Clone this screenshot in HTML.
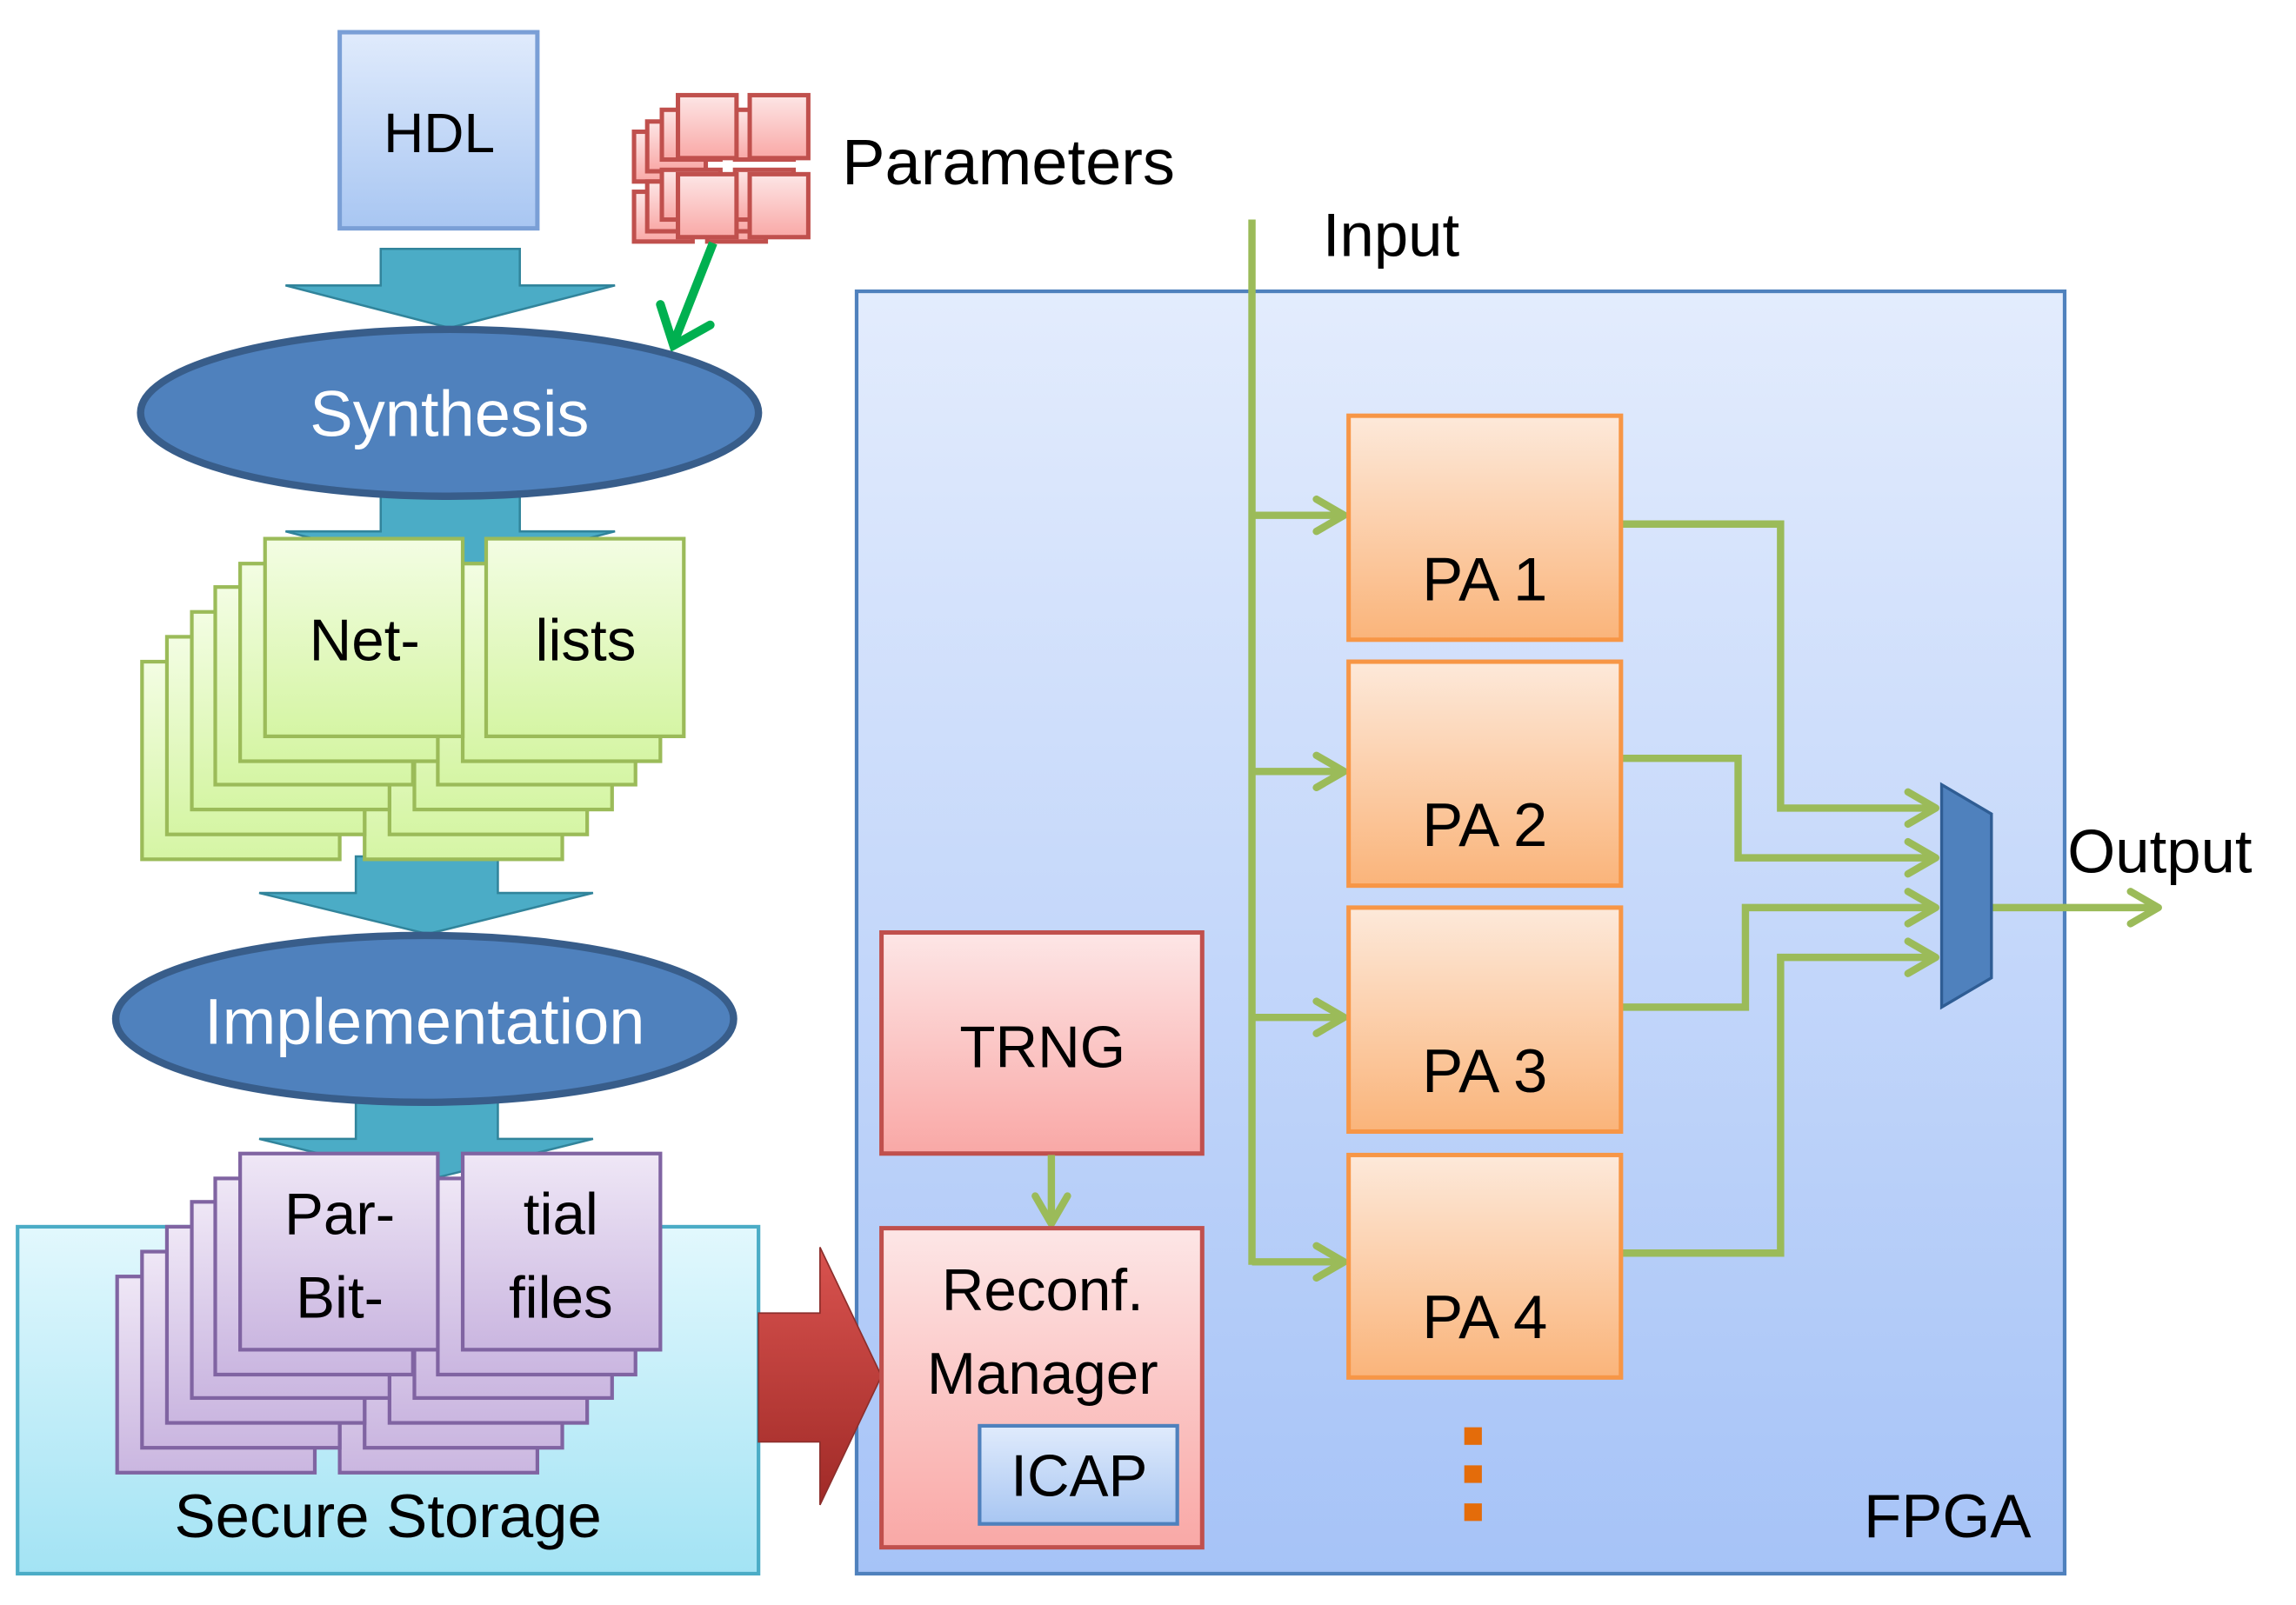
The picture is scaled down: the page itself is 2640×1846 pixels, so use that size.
<!DOCTYPE html>
<html><head><meta charset="utf-8"><style>html,body{margin:0;padding:0;background:#fff}svg{display:block}</style></head>
<body>
<svg width="2640" height="1846" viewBox="0 0 1568 1096.4" preserveAspectRatio="none" xmlns="http://www.w3.org/2000/svg" font-family="'Liberation Sans', 'DejaVu Sans', sans-serif">
<defs>
<linearGradient id="gb" x1="0" y1="0" x2="0" y2="1"><stop offset="0" stop-color="#e0ebfc"/><stop offset="1" stop-color="#a8c6f2"/></linearGradient>
<linearGradient id="gf" x1="0" y1="0" x2="0" y2="1"><stop offset="0" stop-color="#e3ecfd"/><stop offset="1" stop-color="#a6c3f7"/></linearGradient>
<linearGradient id="gr" x1="0" y1="0" x2="0" y2="1"><stop offset="0" stop-color="#fde6e6"/><stop offset="1" stop-color="#f9a8a6"/></linearGradient>
<linearGradient id="go" x1="0" y1="0" x2="0" y2="1"><stop offset="0" stop-color="#fde9da"/><stop offset="1" stop-color="#fab47a"/></linearGradient>
<linearGradient id="gg" x1="0" y1="0" x2="0" y2="1"><stop offset="0" stop-color="#f3fde3"/><stop offset="1" stop-color="#d5f5a4"/></linearGradient>
<linearGradient id="gp" x1="0" y1="0" x2="0" y2="1"><stop offset="0" stop-color="#efe7f6"/><stop offset="1" stop-color="#cab6e0"/></linearGradient>
<linearGradient id="gs" x1="0" y1="0" x2="0" y2="1"><stop offset="0" stop-color="#e2f8fd"/><stop offset="1" stop-color="#a3e3f4"/></linearGradient>
<linearGradient id="gdr" x1="0" y1="0" x2="0" y2="1"><stop offset="0" stop-color="#d9534f"/><stop offset="1" stop-color="#a02a27"/></linearGradient>
<marker id="ah" markerWidth="30" markerHeight="30" refX="22" refY="13" orient="auto" markerUnits="userSpaceOnUse" viewBox="0 0 30 26"><path d="M3,2 L22,13 L3,24" fill="none" stroke="#9bbb59" stroke-width="5" stroke-linecap="round" stroke-linejoin="round"/></marker>
</defs>

<rect x="232" y="22" width="135" height="134" fill="url(#gb)" stroke="#7a9fd6" stroke-width="3"/>
<text x="300" y="104" font-size="38" text-anchor="middle">HDL</text>

<g stroke="#c0504d" stroke-width="3" fill="url(#gr)">
<rect x="433" y="90" width="40" height="34"/><rect x="433" y="131" width="40" height="34"/><rect x="483" y="131" width="40" height="34"/>
<rect x="442" y="83" width="40" height="34"/><rect x="442" y="124" width="40" height="34"/><rect x="492" y="124" width="40" height="34"/>
<rect x="452" y="75" width="40" height="34"/><rect x="452" y="116" width="40" height="34"/><rect x="502" y="116" width="40" height="34"/><rect x="502" y="75" width="40" height="34"/>
<rect x="463" y="65" width="40" height="43"/><rect x="512" y="65" width="40" height="43"/>
<rect x="463" y="119" width="40" height="43"/><rect x="512" y="119" width="40" height="43"/>
</g>
<text x="575" y="126" font-size="44">Parameters</text>
<path d="M487,166 L461,232" stroke="#00b050" stroke-width="6" fill="none"/>
<path d="M451,208 L460,236 L485,222" stroke="#00b050" stroke-width="6" fill="none" stroke-linecap="round"/>

<g fill="#4bacc6" stroke="#31849b" stroke-width="1.5">
<polygon points="260,170 355,170 355,195 420,195 307,224 195,195 260,195"/>
<polygon points="260,335 355,335 355,363 420,363 307,392 195,363 260,363"/>
<polygon points="243,585 340,585 340,610 405,610 292,638 177,610 243,610"/>
<polygon points="243,750 340,750 340,778 405,778 292,806 177,778 243,778"/>
</g>

<ellipse cx="307" cy="282" rx="211" ry="57" fill="#4f81bd" stroke="#385d8a" stroke-width="5"/>
<text x="307" y="298" font-size="44" fill="#fff" text-anchor="middle">Synthesis</text>

<g fill="url(#gg)" stroke="#9bbb59" stroke-width="2.5">
<rect x="97" y="452" width="135" height="135"/><rect x="249" y="452" width="135" height="135"/>
<rect x="114" y="435" width="135" height="135"/><rect x="266" y="435" width="135" height="135"/>
<rect x="131" y="418" width="135" height="135"/><rect x="283" y="418" width="135" height="135"/>
<rect x="147" y="401" width="135" height="135"/><rect x="299" y="401" width="135" height="135"/>
<rect x="164" y="385" width="135" height="135"/><rect x="316" y="385" width="135" height="135"/>
<rect x="181" y="368" width="135" height="135"/><rect x="332" y="368" width="135" height="135"/>
</g>
<text x="249" y="451" font-size="40" text-anchor="middle">Net-</text>
<text x="400" y="451" font-size="40" text-anchor="middle">lists</text>

<ellipse cx="290" cy="696" rx="211" ry="57" fill="#4f81bd" stroke="#385d8a" stroke-width="5"/>
<text x="290" y="713" font-size="44" fill="#fff" text-anchor="middle">Implementation</text>

<rect x="12" y="838" width="506" height="237" fill="url(#gs)" stroke="#4bacc6" stroke-width="2.5"/>
<text x="265" y="1050" font-size="42" text-anchor="middle">Secure Storage</text>
<g fill="url(#gp)" stroke="#8064a2" stroke-width="2.5">
<rect x="80" y="872" width="135" height="134"/><rect x="232" y="872" width="135" height="134"/>
<rect x="97" y="855" width="135" height="134"/><rect x="249" y="855" width="135" height="134"/>
<rect x="114" y="838" width="135" height="134"/><rect x="266" y="838" width="135" height="134"/>
<rect x="131" y="821" width="135" height="134"/><rect x="283" y="821" width="135" height="134"/>
<rect x="147" y="805" width="135" height="134"/><rect x="299" y="805" width="135" height="134"/>
<rect x="164" y="788" width="135" height="134"/><rect x="316" y="788" width="135" height="134"/>
</g>
<text x="232" y="843" font-size="40" text-anchor="middle">Par-</text>
<text x="232" y="900" font-size="40" text-anchor="middle">Bit-</text>
<text x="383" y="843" font-size="40" text-anchor="middle">tial</text>
<text x="383" y="900" font-size="40" text-anchor="middle">files</text>

<rect x="585" y="199" width="825" height="876" fill="url(#gf)" stroke="#4f81bd" stroke-width="2.5"/>
<text x="1330" y="1050" font-size="42" text-anchor="middle">FPGA</text>

<polygon points="518,897 560,897 560,852 602,940 560,1028 560,985 518,985" fill="url(#gdr)" stroke="#8c2f2c" stroke-width="1"/>

<rect x="602" y="637" width="219" height="151" fill="url(#gr)" stroke="#c0504d" stroke-width="3"/>
<text x="712" y="729" font-size="40" text-anchor="middle">TRNG</text>
<path d="M718,789 L718,836" stroke="#9bbb59" stroke-width="5" marker-end="url(#ah)"/>
<rect x="602" y="839" width="219" height="218" fill="url(#gr)" stroke="#c0504d" stroke-width="3"/>
<text x="712" y="895" font-size="40" text-anchor="middle">Reconf.</text>
<text x="712" y="952" font-size="40" text-anchor="middle">Manager</text>
<rect x="669" y="974" width="135" height="67" fill="url(#gb)" stroke="#4f81bd" stroke-width="2.5"/>
<text x="737" y="1022" font-size="40" text-anchor="middle">ICAP</text>

<g stroke="#9bbb59" stroke-width="5" fill="none">
<path d="M855,150 L855,864"/>
<path d="M855,352 L918,352" marker-end="url(#ah)"/>
<path d="M855,527 L918,527" marker-end="url(#ah)"/>
<path d="M855,695 L918,695" marker-end="url(#ah)"/>
<path d="M855,862 L918,862" marker-end="url(#ah)"/>
<path d="M1107,358 L1216,358 L1216,552 L1322,552" marker-end="url(#ah)"/>
<path d="M1107,518 L1187,518 L1187,586 L1322,586" marker-end="url(#ah)"/>
<path d="M1107,688 L1192,688 L1192,620 L1322,620" marker-end="url(#ah)"/>
<path d="M1107,856 L1216,856 L1216,654 L1322,654" marker-end="url(#ah)"/>
<path d="M1360,620 L1474,620" marker-end="url(#ah)"/>
</g>
<text x="950" y="175" font-size="42" text-anchor="middle">Input</text>
<text x="1475" y="596" font-size="42" text-anchor="middle">Output</text>

<g fill="url(#go)" stroke="#f79646" stroke-width="3">
<rect x="921" y="284" width="186" height="153"/>
<rect x="921" y="452" width="186" height="153"/>
<rect x="921" y="620" width="186" height="153"/>
<rect x="921" y="789" width="186" height="152"/>
</g>
<g font-size="42" text-anchor="middle">
<text x="1014" y="410">PA 1</text>
<text x="1014" y="578">PA 2</text>
<text x="1014" y="746">PA 3</text>
<text x="1014" y="914">PA 4</text>
</g>

<polygon points="1326,536 1360,556 1360,668 1326,688" fill="#4f81bd" stroke="#2f5d94" stroke-width="2"/>

<g fill="#e46c0a">
<rect x="1000" y="975" width="12" height="12"/><rect x="1000" y="1001" width="12" height="12"/><rect x="1000" y="1027" width="12" height="12"/>
</g>
</svg>
</body></html>
